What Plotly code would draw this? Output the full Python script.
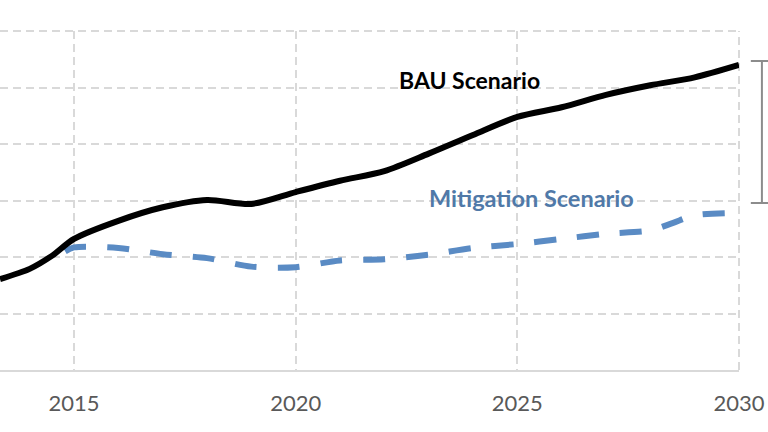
import plotly.graph_objects as go

bau_years = [2013.33, 2014, 2014.5, 2015, 2016, 2017, 2018, 2019, 2020, 2021, 2022, 2023, 2024, 2025, 2026, 2027, 2028, 2029, 2030]
bau_vals = [1.61, 1.79, 2.02, 2.32, 2.64, 2.88, 3.01, 2.94, 3.15, 3.35, 3.52, 3.83, 4.16, 4.48, 4.65, 4.87, 5.04, 5.18, 5.40]

mit_years = [2014.8, 2015, 2016, 2017, 2018, 2019, 2020, 2021, 2022, 2023, 2024, 2025, 2026, 2027, 2028, 2028.5, 2029, 2030]
mit_vals = [2.10, 2.17, 2.16, 2.05, 1.98, 1.83, 1.82, 1.94, 1.96, 2.04, 2.16, 2.23, 2.32, 2.41, 2.47, 2.60, 2.74, 2.78]

x_ticks = [2015, 2020, 2025, 2030]
x_tick_labels = ["2015", "2020", "2025", "2030"]

GRID = "#d9d9d9"
GRID_DASH = "8px,5px"

fig = go.Figure()
fig.add_trace(go.Scatter(x=mit_years, y=mit_vals, mode="lines",
                         line=dict(color="#5a8bc4", width=6, dash="22px,21px", shape="spline", smoothing=0.8),
                         hoverinfo="skip", showlegend=False))
fig.add_trace(go.Scatter(x=bau_years, y=bau_vals, mode="lines",
                         line=dict(color="#000000", width=6, shape="spline", smoothing=0.8),
                         hoverinfo="skip", showlegend=False))

fig.add_annotation(x=2023.91, y=5.13, text="BAU Scenario", showarrow=False,
                   font=dict(family="Lato", size=23, color="#000000", weight="bold"))
fig.add_annotation(x=2025.33, y=3.04, text="Mitigation Scenario", showarrow=False,
                   font=dict(family="Lato", size=23.5, color="#5079a8", weight="bold"))

# top gridline and right gridline at the plot edges
fig.add_shape(type="line", xref="paper", yref="paper", x0=0, x1=1, y0=1, y1=1,
              line=dict(color=GRID, width=2, dash=GRID_DASH), layer="below")
fig.add_shape(type="line", xref="paper", yref="paper", x0=1, x1=1, y0=0, y1=1,
              line=dict(color=GRID, width=2, dash=GRID_DASH), layer="below")

# bracket on the right
br = dict(color="#8c8c8c", width=2)
fig.add_shape(type="line", xref="paper", yref="paper", x0=1.031, x1=1.031, y0=0.4926, y1=0.9115, line=br)
fig.add_shape(type="line", xref="paper", yref="paper", x0=1.016, x1=1.05, y0=0.9115, y1=0.9115, line=br)
fig.add_shape(type="line", xref="paper", yref="paper", x0=1.016, x1=1.05, y0=0.4926, y1=0.4926, line=br)

fig.update_layout(
    width=768, height=432,
    margin=dict(l=0, r=29, t=31, b=62),
    paper_bgcolor="white", plot_bgcolor="white",
    xaxis=dict(range=[2013.33, 2030], tickvals=x_ticks, ticktext=x_tick_labels,
               showgrid=True, gridcolor=GRID, gridwidth=2, griddash=GRID_DASH,
               showline=True, linecolor=GRID, linewidth=2, ticks="",
               ticklabelstandoff=13,
               tickfont=dict(family="Lato", size=22, color="#595959"), zeroline=False),
    yaxis=dict(range=[0, 6], dtick=1, showticklabels=False, showgrid=True,
               gridcolor=GRID, gridwidth=2, griddash=GRID_DASH, zeroline=False, ticks=""),
)

fig.write_html("out.html")
